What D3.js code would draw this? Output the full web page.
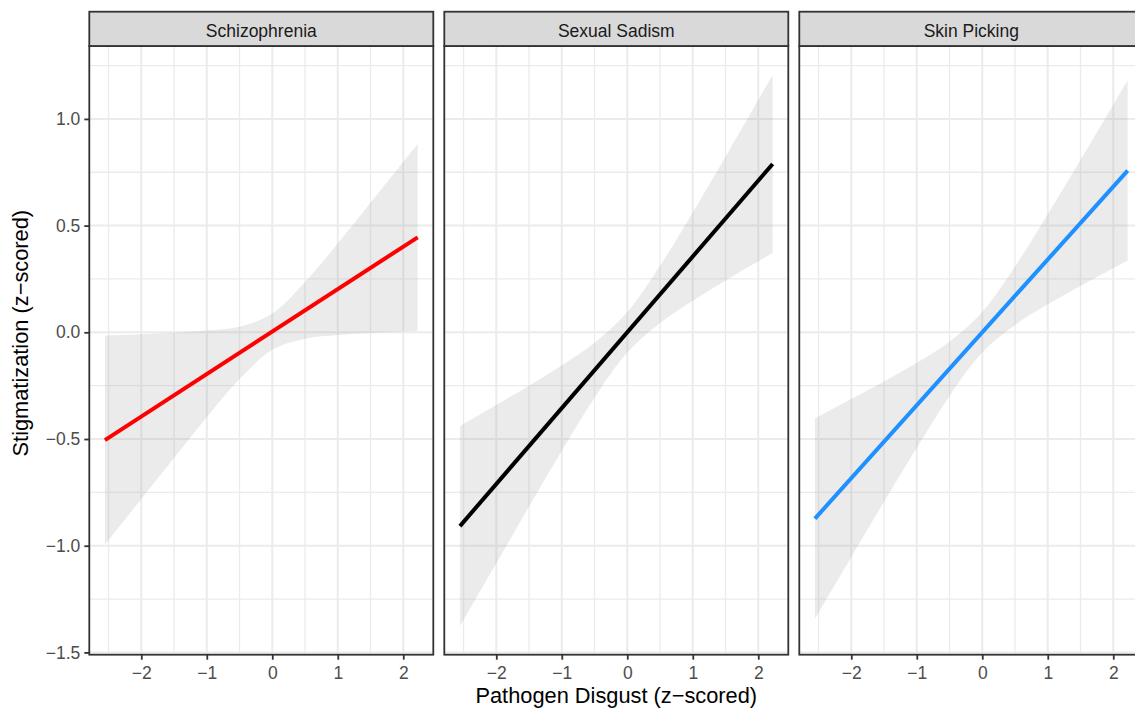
<!DOCTYPE html>
<html>
<head>
<meta charset="utf-8">
<script src="https://cdn.jsdelivr.net/npm/d3@7"></script>
<style>
  html, body { margin: 0; padding: 0; background: #fff; }
  svg { display: block; font-family: "Liberation Sans", Arial, Helvetica, sans-serif; }
</style>
</head>
<body>
<svg id="chart" width="1135" height="709"></svg>
<script>
// ---------------- data ----------------
const categories = ["Schizophrenia", "Sexual Sadism", "Skin Picking"];
const lineColors = ["#FF0000", "#000000", "#1E90FF"];

const lineX = [-2.555, 2.22];
const schizLine  = [-0.505, 0.445];
const sadismLine = [-0.908, 0.789];
const skinLine   = [-0.873, 0.758];

const ribbonX = [-2.555, -2, -1.5, -1, -0.5, 0, 0.5, 1, 1.5, 2, 2.22];
const schizLower  = [-0.995, -0.781, -0.589, -0.398, -0.219, -0.082, -0.030, -0.012, -0.003, 0.004, 0.007];
const schizUpper  = [-0.015, -0.009, -0.002, 0.008, 0.026, 0.088, 0.236, 0.416, 0.607, 0.798, 0.883];
const sadismLower = [-1.377, -1.082, -0.816, -0.555, -0.307, -0.095, 0.044, 0.148, 0.243, 0.333, 0.372];
const sadismUpper = [-0.439, -0.340, -0.250, -0.155, -0.049, 0.095, 0.312, 0.562, 0.823, 1.089, 1.206];
const skinLower   = [-1.342, -1.053, -0.794, -0.541, -0.298, -0.095, 0.034, 0.131, 0.217, 0.300, 0.336];
const skinUpper   = [-0.404, -0.313, -0.230, -0.143, -0.044, 0.095, 0.308, 0.553, 0.807, 1.066, 1.181];

const xTicks = [-2, -1, 0, 1, 2];
const xMinorTicks = [-2.5, -1.5, -0.5, 0.5, 1.5];
const yTicks = [-1.5, -1.0, -0.5, 0.0, 0.5, 1.0];
const yMinorTicks = [-1.25, -0.75, -0.25, 0.25, 0.75, 1.25];
const xTickLabels = ["\u22122", "\u22121", "0", "1", "2"];
const yTickLabels = ["\u22121.5", "\u22121.0", "\u22120.5", "0.0", "0.5", "1.0"];
const xTitle = "Pathogen Disgust (z\u2212scored)";
const yTitle = "Stigmatization (z\u2212scored)";

const lines = [schizLine, sadismLine, skinLine];
const lowers = [schizLower, sadismLower, skinLower];
const uppers = [schizUpper, sadismUpper, skinUpper];

// ---------------- layout ----------------
const panelLefts = [89.3, 444.3, 799.3];
const panelW = 344;
const stripTop = 11.7, panelTop = 46, panelBottom = 654.7;
const smallFont = 17.5, titleFont = 21.8;

const xDataMin = -2.555, xDataMax = 2.22;
const xPad = (xDataMax - xDataMin) * 0.05;
const yDataMin = -1.381, yDataMax = 1.212;
const yPad = (yDataMax - yDataMin) * 0.05;

const y = d3.scaleLinear().domain([yDataMin - yPad, yDataMax + yPad]).range([panelBottom, panelTop]);

const svg = d3.select("#chart");
const gridCol = "#EBEBEB";
const darkCol = "#333333";
const textCol = "#4D4D4D";

categories.forEach((cat, i) => {
  const x0 = panelLefts[i];
  const x = d3.scaleLinear().domain([xDataMin - xPad, xDataMax + xPad]).range([x0, x0 + panelW]);
  const g = svg.append("g");

  g.append("rect").attr("x", x0).attr("y", panelTop).attr("width", panelW).attr("height", panelBottom - panelTop).attr("fill", "#fff");

  // minor grid
  g.selectAll(".vminor").data(xMinorTicks).enter().append("line")
    .attr("x1", d => x(d)).attr("x2", d => x(d)).attr("y1", panelTop).attr("y2", panelBottom)
    .attr("stroke", gridCol).attr("stroke-width", 1.3);
  g.selectAll(".hminor").data(yMinorTicks).enter().append("line")
    .attr("x1", x0).attr("x2", x0 + panelW).attr("y1", d => y(d)).attr("y2", d => y(d))
    .attr("stroke", gridCol).attr("stroke-width", 1.3);
  // major grid
  g.selectAll(".vmajor").data(xTicks).enter().append("line")
    .attr("x1", d => x(d)).attr("x2", d => x(d)).attr("y1", panelTop).attr("y2", panelBottom)
    .attr("stroke", gridCol).attr("stroke-width", 2);
  g.selectAll(".hmajor").data(yTicks).enter().append("line")
    .attr("x1", x0).attr("x2", x0 + panelW).attr("y1", d => y(d)).attr("y2", d => y(d))
    .attr("stroke", gridCol).attr("stroke-width", 2);

  // ribbon
  const rib = ribbonX.map((xv, k) => ({ x: xv, lo: lowers[i][k], hi: uppers[i][k] }));
  const area = d3.area().x(d => x(d.x)).y0(d => y(d.lo)).y1(d => y(d.hi)).curve(d3.curveCatmullRom.alpha(0.5));
  g.append("path").datum(rib).attr("d", area).attr("fill", "#999999").attr("fill-opacity", 0.2);

  // fit line
  const pts = lineX.map((xv, k) => ({ x: xv, y: lines[i][k] }));
  g.append("path").datum(pts)
    .attr("d", d3.line().x(d => x(d.x)).y(d => y(d.y)))
    .attr("fill", "none").attr("stroke", lineColors[i]).attr("stroke-width", 4);

  // panel border
  g.append("rect").attr("x", x0).attr("y", panelTop).attr("width", panelW).attr("height", panelBottom - panelTop)
    .attr("fill", "none").attr("stroke", darkCol).attr("stroke-width", 1.8);

  // strip
  g.append("rect").attr("x", x0).attr("y", stripTop).attr("width", panelW).attr("height", panelTop - stripTop)
    .attr("fill", "#D9D9D9").attr("stroke", darkCol).attr("stroke-width", 1.8);
  g.append("text").attr("x", x0 + panelW / 2).attr("y", 36.5)
    .attr("text-anchor", "middle").attr("font-size", smallFont).attr("fill", "#1A1A1A").text(cat);

  // bottom axis
  const xa = g.append("g").attr("transform", `translate(0,${panelBottom})`)
    .call(d3.axisBottom(x).tickValues(xTicks).tickSize(5).tickPadding(7).tickFormat((d, k) => xTickLabels[k]));
  xa.select(".domain").remove();
  xa.selectAll(".tick line").attr("stroke", darkCol).attr("stroke-width", 1.8);
  xa.selectAll(".tick text").attr("fill", textCol).attr("font-size", smallFont).attr("font-family", "Liberation Sans, Arial, sans-serif");

  if (i === 0) {
    const ya = g.append("g").attr("transform", `translate(${x0},0)`)
      .call(d3.axisLeft(y).tickValues(yTicks).tickSize(5).tickPadding(4).tickFormat((d, k) => yTickLabels[k]));
    ya.select(".domain").remove();
    ya.selectAll(".tick line").attr("stroke", darkCol).attr("stroke-width", 1.8);
    ya.selectAll(".tick text").attr("fill", textCol).attr("font-size", smallFont).attr("font-family", "Liberation Sans, Arial, sans-serif");
  }
});

// axis titles
const fullLeft = panelLefts[0], fullRight = panelLefts[2] + panelW;
svg.append("text").attr("x", (fullLeft + fullRight) / 2).attr("y", 703)
  .attr("text-anchor", "middle").attr("font-size", titleFont).attr("fill", "#000").text(xTitle);
svg.append("text").attr("transform", `translate(28,${(stripTop + panelBottom) / 2}) rotate(-90)`)
  .attr("text-anchor", "middle").attr("font-size", titleFont).attr("fill", "#000").text(yTitle);
</script>
</body>
</html>
